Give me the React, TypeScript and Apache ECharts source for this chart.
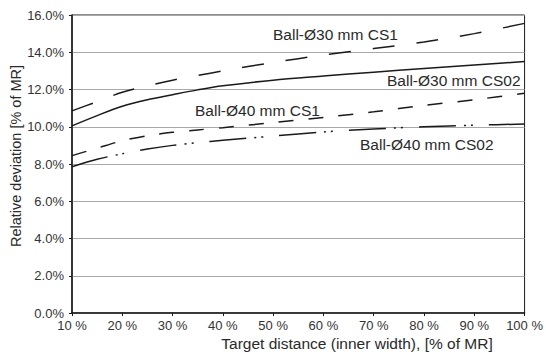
import React, { useEffect, useRef } from "react";
import * as echarts from "echarts";

const xs = [10, 15, 20, 25, 30, 35, 40, 50, 60, 70, 80, 90, 100];
const ball30CS1 = [10.85, 11.35, 11.85, 12.2, 12.5, 12.75, 13.0, 13.45, 13.85, 14.2, 14.55, 15.0, 15.55];
const ball30CS02 = [10.05, 10.6, 11.1, 11.45, 11.72, 11.98, 12.2, 12.5, 12.72, 12.93, 13.13, 13.32, 13.5];
const ball40CS1 = [8.45, 8.85, 9.25, 9.52, 9.7, 9.83, 9.95, 10.22, 10.5, 10.8, 11.15, 11.45, 11.8];
const ball40CS02 = [7.85, 8.25, 8.55, 8.8, 9.0, 9.15, 9.27, 9.5, 9.72, 9.88, 10.0, 10.08, 10.15];

const seriesNames = ["Ball-Ø30 mm CS1", "Ball-Ø30 mm CS02", "Ball-Ø40 mm CS1", "Ball-Ø40 mm CS02"];
const xTitle = "Target distance (inner width), [% of MR]";
const yTitle = "Relative deviation [% of MR]";

const FONT = "'Liberation Sans', Arial, Helvetica, sans-serif";

export default function App() {
  const ref = useRef<HTMLDivElement>(null);
  useEffect(() => {
    if (!ref.current) return;
    const chart = echarts.init(ref.current, undefined, { renderer: "svg" });
    const mk = (vals: number[]) => xs.map((x, i) => [x, vals[i]]);
    const lineBase = { color: "#1a1a1a", width: 1.5 };
    const labelStyle = { fill: "#2a2a2a", fontSize: 15.5, fontFamily: FONT };
    chart.setOption({
      animation: false,
      backgroundColor: "#fff",
      grid: {
        left: 72,
        right: 17,
        top: 15,
        bottom: 43,
        show: true,
        borderColor: "#1a1a1a",
        borderWidth: 1,
        backgroundColor: "transparent",
      },
      xAxis: {
        type: "value",
        min: 10,
        max: 100,
        interval: 10,
        axisLine: { show: true, lineStyle: { color: "#1a1a1a", width: 1.5 } },
        axisTick: { show: true, length: 3, lineStyle: { color: "#1a1a1a" } },
        axisLabel: {
          formatter: "{value} %",
          color: "#333",
          fontSize: 13,
          fontFamily: FONT,
          margin: 6,
        },
        splitLine: { show: false },
      },
      yAxis: {
        type: "value",
        min: 0,
        max: 16,
        interval: 2,
        axisLine: { show: true, lineStyle: { color: "#1a1a1a", width: 1.5 } },
        axisTick: { show: true, length: 3, lineStyle: { color: "#1a1a1a" } },
        axisLabel: {
          formatter: (v: number) => v.toFixed(1) + "%",
          color: "#333",
          fontSize: 13,
          fontFamily: FONT,
          margin: 8,
        },
        splitLine: { show: true, lineStyle: { color: "#a8a8a8", width: 1 } },
      },
      series: [
        {
          name: seriesNames[0],
          type: "line",
          data: mk(ball30CS1),
          showSymbol: false,
          smooth: 0.3,
          lineStyle: { ...lineBase, type: [22, 22] },
        },
        {
          name: seriesNames[1],
          type: "line",
          data: mk(ball30CS02),
          showSymbol: false,
          smooth: 0.3,
          lineStyle: { ...lineBase, type: "solid" },
        },
        {
          name: seriesNames[2],
          type: "line",
          data: mk(ball40CS1),
          showSymbol: false,
          smooth: 0.3,
          lineStyle: { ...lineBase, type: [15, 15] },
        },
        {
          name: seriesNames[3],
          type: "line",
          data: mk(ball40CS02),
          showSymbol: false,
          smooth: 0.3,
          lineStyle: { ...lineBase, type: [37, 8, 2, 5, 2, 16] },
        },
      ],
      graphic: [
        { type: "text", left: 273, top: 26, silent: true, style: { ...labelStyle, text: seriesNames[0] } },
        { type: "text", left: 387, top: 72, silent: true, style: { ...labelStyle, text: seriesNames[1] } },
        { type: "text", left: 195, top: 102, silent: true, style: { ...labelStyle, text: seriesNames[2] } },
        { type: "text", left: 360, top: 136, silent: true, style: { ...labelStyle, text: seriesNames[3] } },
        {
          type: "text",
          x: 357,
          y: 343,
          silent: true,
          style: { ...labelStyle, text: xTitle, align: "center", verticalAlign: "middle" },
        },
        {
          type: "text",
          x: 16,
          y: 156,
          rotation: Math.PI / 2,
          silent: true,
          style: { ...labelStyle, fontSize: 14.5, text: yTitle, align: "center", verticalAlign: "middle" },
        },
      ],
    });
    return () => chart.dispose();
  }, []);
  return (
    <div
      ref={ref}
      style={{ position: "fixed", left: 0, top: 0, width: 546, height: 356, background: "#fff" }}
    />
  );
}
